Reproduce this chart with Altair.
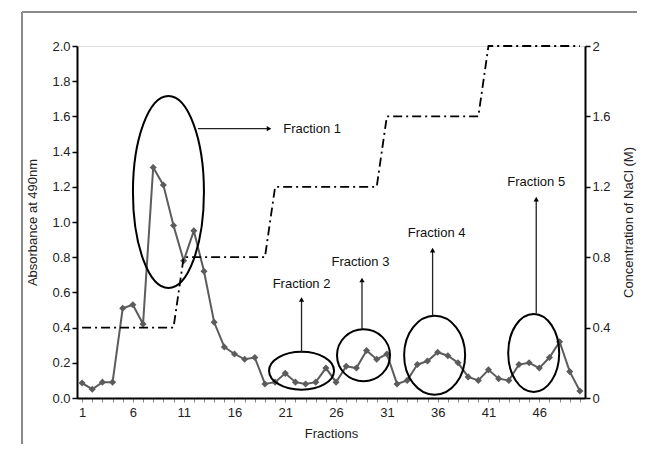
import altair as alt
import pandas as pd

# ---------------- data ----------------
fractions = list(range(1, 51))
absorbance = [0.085, 0.05, 0.09, 0.09, 0.51, 0.53, 0.42, 1.31, 1.21, 0.98,
              0.78, 0.95, 0.72, 0.43, 0.29, 0.25, 0.22, 0.23, 0.08, 0.09,
              0.14, 0.09, 0.08, 0.09, 0.17, 0.09, 0.18, 0.17, 0.27, 0.22,
              0.25, 0.08, 0.10, 0.19, 0.21, 0.26, 0.24, 0.20, 0.12, 0.10,
              0.16, 0.11, 0.10, 0.19, 0.20, 0.17, 0.23, 0.32, 0.15, 0.04]
nacl = [0.4] * 10 + [0.8] * 9 + [1.2] * 11 + [1.6] * 10 + [2.0] * 10

# annotation ellipses (centre in data units, size in px)
ell_x = [9.5, 22.6, 28.7, 35.7, 45.45]
ell_y = [1.17, 0.155, 0.243, 0.243, 0.256]
ell_w = [71, 65, 53, 61, 51]
ell_h = [192, 38, 52, 79, 78]

# labels and arrows
lab_text = ["Fraction 1", "Fraction 2", "Fraction 3", "Fraction 4", "Fraction 5"]
lab_x = [20.8, 22.6, 28.4, 35.9, 45.7]
lab_y = [1.53, 0.65, 0.77, 0.94, 1.23]
lab_align = ["left", "center", "center", "center", "center"]
arr_x1 = [12.4, 22.6, 28.55, 35.5, 45.7]
arr_x2 = [19.4, 22.6, 28.55, 35.5, 45.7]
arr_y1 = [1.53, 0.26, 0.39, 0.47, 0.48]
arr_y2 = [1.53, 0.56, 0.67, 0.84, 1.13]
arr_shape = ["triangle-right", "triangle-up", "triangle-up", "triangle-up", "triangle-up"]

left_ticks = [0.0, 0.2, 0.4, 0.6, 0.8, 1.0, 1.2, 1.4, 1.6, 1.8, 2.0]
right_ticks = [0, 0.4, 0.8, 1.2, 1.6, 2]

FONT = "Liberation Sans"
GREY = "#5c5c5c"

df = pd.DataFrame({"fraction": fractions, "absorbance": absorbance, "nacl": nacl})


def ellipse_path(w, h):
    s = max(w, h)
    rx, ry = w / s, h / s
    k = 0.5523
    return (f"M {rx} 0 C {rx} {k*ry} {k*rx} {ry} 0 {ry} "
            f"C {-k*rx} {ry} {-rx} {k*ry} {-rx} 0 "
            f"C {-rx} {-k*ry} {-k*rx} {-ry} 0 {-ry} "
            f"C {k*rx} {-ry} {rx} {-k*ry} {rx} 0 Z")


ell = pd.DataFrame({
    "x": ell_x, "y": ell_y,
    "path": [ellipse_path(w, h) for w, h in zip(ell_w, ell_h)],
    "size": [max(w, h) ** 2 for w, h in zip(ell_w, ell_h)],
})
labs = pd.DataFrame({"x": lab_x, "y": lab_y, "text": lab_text, "align": lab_align})
arrows = pd.DataFrame({"x1": arr_x1, "x2": arr_x2, "y1": arr_y1, "y2": arr_y2,
                       "shape": arr_shape})

xscale = alt.Scale(domain=[0.5, 50.5], nice=False, zero=False)
yscale = alt.Scale(domain=[0, 2], nice=False)

xaxis = alt.Axis(
    title="Fractions", values=fractions,
    labelExpr="(datum.value - 1) % 5 == 0 ? datum.label : ''",
    labelOverlap=False, grid=False, domainColor="black", domainWidth=2,
    tickColor="#888", tickSize=4, labelFontSize=13, labelFont=FONT,
    labelColor="#222", labelPadding=4, titleFont=FONT, titleFontSize=13,
    titleFontWeight="normal", titleColor="#222", titlePadding=8,
)
yaxis_left = alt.Axis(
    title="Absorbance at 490nm", values=left_ticks, labelOverlap=False,
    format=".1f", grid=False, domainColor="black", domainWidth=2,
    tickColor="black", tickSize=5, tickWidth=1.5, labelFontSize=13,
    labelFont=FONT, labelColor="#222", titleFont=FONT, titleFontSize=13,
    titleFontWeight="normal", titleColor="#222", titlePadding=12,
)
yaxis_right = alt.Axis(
    title="Concentration of NaCl (M)", orient="right", titleAngle=-90,
    titleBaseline="top",
    values=right_ticks, labelOverlap=False, format="~g", grid=False,
    domainColor="black", domainWidth=2, tickColor="black", tickSize=5,
    tickWidth=1.5, labelFontSize=13, labelFont=FONT, labelColor="#222",
    titleFont=FONT, titleFontSize=13, titleFontWeight="normal",
    titleColor="#222", titlePadding=12,
)


def X(field):
    return alt.X(field, scale=xscale, axis=xaxis)


def Y(field):
    return alt.Y(field, scale=yscale, axis=yaxis_left)


base = alt.Chart(df)

abs_line = base.mark_line(color=GREY, strokeWidth=2).encode(
    x=X("fraction:Q"), y=Y("absorbance:Q"))
abs_pts = base.mark_point(shape="diamond", filled=True, color=GREY, size=50,
                          opacity=1).encode(x=X("fraction:Q"), y=Y("absorbance:Q"))

ell_layer = alt.Chart(ell).mark_point(filled=False, color="black", strokeWidth=2,
                                      opacity=1).encode(
    x=X("x:Q"), y=Y("y:Q"),
    shape=alt.Shape("path:N", scale=None, legend=None),
    size=alt.Size("size:Q", scale=None, legend=None),
)

arrow_shaft = alt.Chart(arrows).mark_rule(color="#222", strokeWidth=1.3).encode(
    x=X("x1:Q"), x2="x2:Q", y=Y("y1:Q"), y2="y2:Q")
arrow_head = alt.Chart(arrows).mark_point(filled=True, color="black", size=28,
                                          opacity=1).encode(
    x=X("x2:Q"), y=Y("y2:Q"),
    shape=alt.Shape("shape:N", scale=None, legend=None))

text_left = alt.Chart(labs).transform_filter("datum.align == 'left'").mark_text(
    align="left", baseline="middle", font=FONT, fontSize=13, color="#111").encode(
    x=X("x:Q"), y=Y("y:Q"), text="text:N")
text_center = alt.Chart(labs).transform_filter("datum.align == 'center'").mark_text(
    align="center", baseline="middle", font=FONT, fontSize=13, color="#111").encode(
    x=X("x:Q"), y=Y("y:Q"), text="text:N")

one = pd.DataFrame({"a": [0]})
frame_top = alt.Chart(one).mark_rule(stroke="#8a8a8a", strokeWidth=2, clip=False).encode(
    x=alt.value(-55), x2=alt.value(560), y=alt.value(-34), y2=alt.value(-34))
frame_left = alt.Chart(one).mark_rule(stroke="#8a8a8a", strokeWidth=2, clip=False).encode(
    x=alt.value(-55), x2=alt.value(-55), y=alt.value(-34), y2=alt.value(398))

left = alt.layer(frame_top, frame_left, abs_line, abs_pts, ell_layer, arrow_shaft,
                 arrow_head, text_left, text_center)

right = base.mark_line(color="black", strokeWidth=1.8,
                       strokeDash=[9, 4, 2, 4]).encode(
    x=X("fraction:Q"),
    y=alt.Y("nacl:Q", scale=alt.Scale(domain=[0, 2], nice=False), axis=yaxis_right))

chart = alt.layer(left, right).resolve_scale(y="independent").properties(
    width=508, height=352,
    autosize=alt.AutoSizeParams(type="none"),
    padding={"left": 69, "top": 38, "right": 52, "bottom": 50},
).configure_view(stroke=None).configure(background="white")

chart.save("out.html", embed_options={"renderer": "svg", "actions": False})
